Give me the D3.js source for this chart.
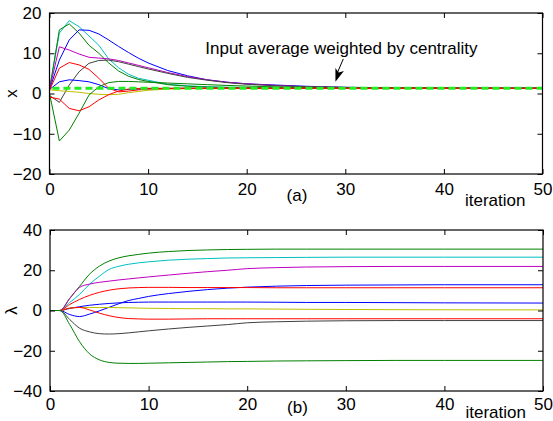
<!DOCTYPE html>
<html>
<head>
<meta charset="utf-8">
<script src="https://cdn.jsdelivr.net/npm/d3@7"></script>
<style>
html,body{margin:0;padding:0;background:#fff;}
svg{display:block;font-family:"Liberation Sans",Arial,Helvetica,sans-serif;}
</style>
</head>
<body>
<svg id="chart" width="553" height="421"></svg>
<script>
// ---------- data ----------
const iterations = [0,1,2,3,4,5,6,7,8,9,10,12,14,16,18,20,23,26,30,35,40,50];
const xTicks = [0,10,20,30,40,50];
const yTicksA = [-20,-10,0,10,20];
const yTicksB = [-40,-20,0,20,40];
const inputAverage = 1.3;

// panel (a): x
const xCyan    = [1.0,15.0,18.1,16.6,14.3,12.0,8.6,6.4,4.8,3.8,3.3,2.3,1.9,1.7,1.55,1.5,1.4,1.35,1.3,1.3,1.3,1.3];
const xGreenUp = [1.0,15.8,17.3,15.0,12.0,10.0,7.6,5.6,4.3,3.5,3.0,2.2,1.8,1.6,1.5,1.45,1.4,1.35,1.3,1.3,1.3,1.3];
const xBlueUp  = [1.0,8.3,13.3,15.8,15.7,14.8,13.3,11.7,10.2,8.8,7.6,5.7,4.4,3.4,2.8,2.4,2.1,1.8,1.55,1.4,1.35,1.3];
const xMagenta = [1.0,11.6,10.8,9.8,9.0,8.8,8.6,8.2,7.6,7.0,6.4,5.2,4.2,3.4,2.8,2.4,2.0,1.7,1.5,1.4,1.35,1.3];
const xBlack   = [-0.5,-2.2,2.1,5.4,7.5,8.2,8.3,7.9,7.3,6.7,6.1,5.0,4.0,3.3,2.7,2.3,1.9,1.7,1.5,1.4,1.35,1.3];
const xBlueLow = [1.0,2.9,3.4,3.2,2.9,2.2,1.2,0.9,1.0,1.1,1.2,1.25,1.3,1.3,1.3,1.3,1.3,1.3,1.3,1.3,1.3,1.3];
const xYellow  = [0.9,0.7,0.5,0.3,0.0,-0.2,-0.3,-0.2,0.2,0.5,0.8,1.1,1.2,1.25,1.3,1.3,1.3,1.3,1.3,1.3,1.3,1.3];
const xGreenLow= [0.0,-11.8,-9.1,-4.9,-0.4,1.7,2.7,3.0,3.0,2.9,2.8,2.6,2.4,2.2,2.0,1.85,1.65,1.5,1.4,1.35,1.3,1.3];
const xRedUp   = [0.8,6.3,7.7,7.1,6.0,3.8,1.3,0.4,0.6,0.9,1.1,1.25,1.3,1.3,1.3,1.3,1.3,1.3,1.3,1.3,1.3,1.3];
const xRedLow  = [-0.9,-1.4,-3.7,-4.3,-3.3,-1.6,-0.3,0.6,1.1,1.25,1.3,1.3,1.3,1.3,1.3,1.3,1.3,1.3,1.3,1.3,1.3,1.3];

// panel (b): lambda
const lGreenUp = [0,0,6.0,12.0,18.0,22.0,24.6,26.2,27.2,27.9,28.5,29.3,29.8,30.1,30.3,30.4,30.5,30.5,30.5,30.5,30.5,30.5];
const lCyan    = [0,0,4.0,8.0,13.0,17.0,20.4,22.0,23.0,23.7,24.2,25.0,25.5,25.8,26.1,26.2,26.3,26.4,26.5,26.5,26.5,26.5];
const lMagenta = [0,0,6.0,11.5,13.1,14.0,14.6,15.2,15.7,16.2,16.7,17.6,18.5,19.3,20.0,20.8,21.3,21.6,21.8,21.9,21.9,21.9];
const lBlueUp  = [0,0,-2.0,-3.0,-1.8,-0.2,1.6,3.4,5.0,6.0,7.0,8.4,9.5,10.4,11.1,11.6,12.1,12.4,12.6,12.7,12.8,12.8];
const lRedUp   = [0,0,3.0,5.5,7.5,9.0,10.1,10.8,11.2,11.4,11.5,11.5,11.4,11.4,11.4,11.4,11.3,11.3,11.3,11.3,11.3,11.3];
const lBlueLow = [0,0,1.0,1.9,2.6,3.1,3.5,3.8,4.0,4.1,4.2,4.2,4.2,4.2,4.2,4.2,4.1,4.0,4.0,3.9,3.8,3.7];
const lYellow  = [0,0,1.2,1.5,1.5,1.5,1.5,1.4,1.3,1.2,1.1,1.0,0.9,0.9,0.8,0.8,0.7,0.6,0.5,0.4,0.35,0.3];
const lRedLow  = [0,0,1.2,1.5,0.3,-1.3,-2.6,-3.5,-4.0,-4.2,-4.3,-4.3,-4.2,-4.1,-4.1,-4.1,-4.1,-4.1,-4.1,-4.1,-4.1,-4.1];
const lBlack   = [0,0,-4.5,-8.8,-10.6,-11.5,-11.7,-11.5,-11.1,-10.6,-10.1,-9.2,-8.4,-7.7,-7.0,-6.1,-5.6,-5.3,-5.1,-5.0,-5.0,-5.0];
const lGreenLow= [0,0,-7.0,-15.5,-21.5,-24.5,-25.8,-26.2,-26.3,-26.3,-26.2,-26.0,-25.8,-25.6,-25.4,-25.3,-25.1,-25.0,-24.9,-24.8,-24.8,-24.8];

const C = {blue:"#0000ff", green:"#008000", red:"#ff0000", cyan:"#00bfbf",
           magenta:"#bf00bf", yellow:"#bfbf00", black:"#404040"};

const seriesA = [
  {v:xCyan,c:C.cyan},{v:xGreenUp,c:C.green},{v:xBlueUp,c:C.blue},{v:xMagenta,c:C.magenta},
  {v:xBlack,c:C.black},{v:xBlueLow,c:C.blue},{v:xYellow,c:C.yellow},{v:xGreenLow,c:C.green},
  {v:xRedUp,c:C.red},{v:xRedLow,c:C.red}
];
const seriesB = [
  {v:lGreenUp,c:C.green},{v:lCyan,c:C.cyan},{v:lMagenta,c:C.magenta},{v:lBlueUp,c:C.blue},
  {v:lRedUp,c:C.red},{v:lBlueLow,c:C.blue},{v:lYellow,c:C.yellow},{v:lRedLow,c:C.red},
  {v:lBlack,c:C.black},{v:lGreenLow,c:C.green}
];

// ---------- drawing ----------
const svg = d3.select("#chart");
const FS = 17;

function panel(cfg){
  const x = d3.scaleLinear().domain([0,50]).range([cfg.left, cfg.right]);
  const y = d3.scaleLinear().domain(cfg.ydom).range([cfg.bottom, cfg.top]);
  const g = svg.append("g");

  const line = d3.line().x((d,i)=>x(iterations[i])).y(d=>y(d)).curve(cfg.curve);
  cfg.series.forEach(s=>{
    g.append("path").attr("d", line(s.v)).attr("fill","none")
     .attr("stroke", s.c).attr("stroke-width",1);
  });
  if (cfg.after) cfg.after(g, x, y);

  const tl = 5;
  g.append("g").attr("transform",`translate(0,${cfg.bottom})`)
    .call(d3.axisBottom(x).tickValues(xTicks).tickSizeInner(-tl).tickSizeOuter(0).tickPadding(cfg.xpad));
  g.append("g").attr("transform",`translate(0,${cfg.top})`)
    .call(d3.axisTop(x).tickValues(xTicks).tickSizeInner(-tl).tickSizeOuter(0).tickFormat(""));
  g.append("g").attr("transform",`translate(${cfg.left},0)`)
    .call(d3.axisLeft(y).tickValues(cfg.yticks).tickSizeInner(-tl).tickSizeOuter(0).tickPadding(8));
  g.append("g").attr("transform",`translate(${cfg.right},0)`)
    .call(d3.axisRight(y).tickValues(cfg.yticks).tickSizeInner(-tl).tickSizeOuter(0).tickFormat(""));
  g.selectAll(".domain").remove();
  g.selectAll(".tick line").attr("stroke","#000").attr("stroke-width",1);
  g.selectAll(".tick text").attr("font-size",FS).attr("fill","#000")
    .attr("font-family",'"Liberation Sans",Arial,sans-serif');
  g.append("rect").attr("x",cfg.left).attr("y",cfg.top)
    .attr("width",cfg.right-cfg.left).attr("height",cfg.bottom-cfg.top)
    .attr("fill","none").attr("stroke","#000").attr("stroke-width",1.2);

  g.append("text").attr("x",x(25.1)).attr("y",cfg.bottom+cfg.tagDy).attr("text-anchor","middle")
    .attr("font-size",FS).text(cfg.tag);
  g.append("text").attr("x",x(45.2)).attr("y",cfg.bottom+cfg.itDy).attr("text-anchor","middle")
    .attr("font-size",FS).text("iteration");
  g.append("text").attr("transform",`translate(17,${y(0)}) rotate(-90)`)
    .attr("text-anchor","middle").attr("font-size",FS).text(cfg.ylabel);
  return {x,y};
}

panel({left:49.5,right:542.5,top:13,bottom:174,ydom:[-20,20],yticks:yTicksA,
  series:seriesA, curve:d3.curveLinear, tag:"(a)", ylabel:"x", tagDy:27, itDy:32, xpad:9,
  after:(g,x,y)=>{
    g.append("path").attr("d", d3.line()([[x(0.3),y(inputAverage)],[x(50),y(inputAverage)]]))
      .attr("stroke","#22ee22").attr("stroke-width",3).attr("stroke-dasharray","7,4").attr("fill","none");
    g.append("text").attr("x",x(15.8)).attr("y",y(9.7)).attr("font-size",FS)
      .text("Input average weighted by centrality");
    const x0 = x(29.8), y0 = y(8.6), x1 = x(29.0), y1 = y(2.9);
    g.append("line").attr("x1",x0).attr("y1",y0).attr("x2",x1+1.5).attr("y2",y1-8)
      .attr("stroke","#000").attr("stroke-width",1);
    const ang = Math.atan2(y1-y0, x1-x0);
    const L = 13, W = 4.5;
    const bx = x1 - L*Math.cos(ang), by = y1 - L*Math.sin(ang);
    const px = -Math.sin(ang)*W, py = Math.cos(ang)*W;
    g.append("path").attr("d",`M${x1},${y1}L${bx+px},${by+py}L${bx+(x1-bx)*0.25},${by+(y1-by)*0.25}L${bx-px},${by-py}Z`)
      .attr("fill","#000");
  }});

panel({left:50,right:543,top:230,bottom:391,ydom:[-40,40],yticks:yTicksB,
  series:seriesB, curve:d3.curveMonotoneX, tag:"(b)", ylabel:"λ", tagDy:22, itDy:27, xpad:7});
</script>
</body>
</html>
